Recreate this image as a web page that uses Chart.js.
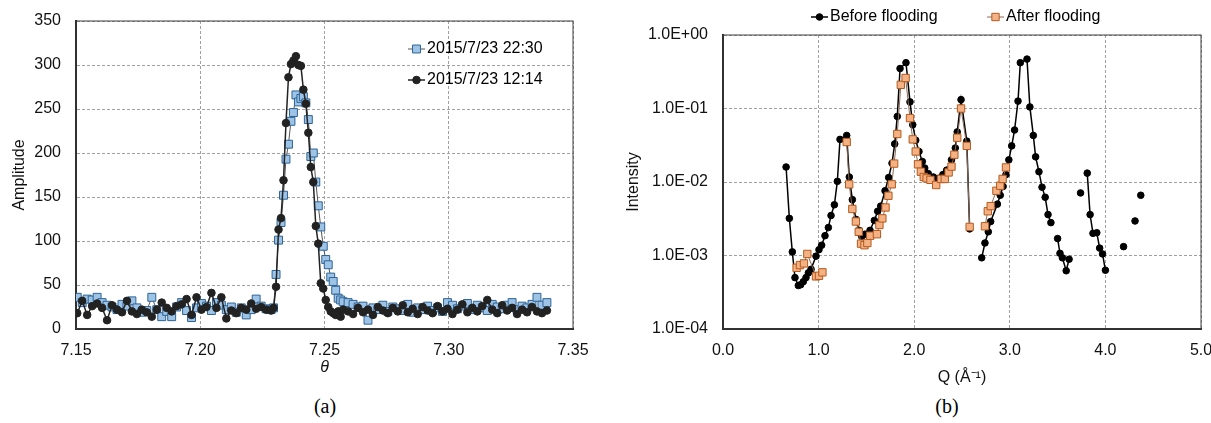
<!DOCTYPE html>
<html>
<head>
<meta charset="utf-8">
<script src="https://cdn.jsdelivr.net/npm/chart.js"></script>
<style>
  html, body { margin: 0; padding: 0; background: #fff; }
  #wrap { position: relative; width: 1211px; height: 423px; overflow: hidden; }
  canvas { position: absolute; top: 0; }
  #chartA { left: 0; }
  #chartB { left: 600px; }
  .cap { position: absolute; top: 395px; width: 60px; text-align: center;
         font: 20px "Liberation Serif", "Times New Roman", serif; color: #000; }
</style>
</head>
<body>
<div id="wrap">
  <canvas id="chartA" width="600" height="390"></canvas>
  <canvas id="chartB" width="611" height="390"></canvas>
  <div class="cap" style="left:295px">(a)</div>
  <div class="cap" style="left:917px">(b)</div>
</div>
<script>
"use strict";

/* (a) amplitude vs theta */
const theta = [
  7.1505, 7.1525, 7.1545, 7.1565, 7.1585, 7.1605, 7.1625, 7.1645, 7.1665, 7.1685,
  7.1705, 7.1725, 7.1745, 7.1765, 7.1785, 7.1805, 7.1825, 7.1845, 7.1865, 7.1885,
  7.1905, 7.1925, 7.1945, 7.1965, 7.1985, 7.2005, 7.2025, 7.2045, 7.2065, 7.2085,
  7.2105, 7.2125, 7.2145, 7.2165, 7.2185, 7.2205, 7.2225, 7.2245, 7.2265, 7.2285,
  7.2295, 7.2305, 7.2315, 7.2325, 7.2335, 7.2345, 7.2355, 7.2365, 7.2375, 7.2385,
  7.2395, 7.2405, 7.2415, 7.2425, 7.2435, 7.2445, 7.2455, 7.2465, 7.2475, 7.2485,
  7.2495, 7.2505, 7.2515, 7.2525, 7.2535, 7.2545, 7.2555, 7.2565, 7.2575,
  7.2595, 7.2615, 7.2635, 7.2655, 7.2675, 7.2695, 7.2715, 7.2735, 7.2755, 7.2775,
  7.2795, 7.2815, 7.2835, 7.2855, 7.2875, 7.2895, 7.2915, 7.2935, 7.2955, 7.2975,
  7.2995, 7.3015, 7.3035, 7.3055, 7.3075, 7.3095, 7.3115, 7.3135, 7.3155, 7.3175,
  7.3195, 7.3215, 7.3235, 7.3255, 7.3275, 7.3295, 7.3315, 7.3335, 7.3355, 7.3375,
  7.3395
];
const amp2230 = [
  36, 30, 34, 33, 36, 30, 27, 25, 22, 28, 26, 32, 24, 19, 21, 36, 22, 14, 20, 14,
  25, 30, 21, 13, 24, 29, 26, 21, 30, 27, 22, 25, 19, 24, 16, 22, 34, 26, 23, 22,
  24, 62, 101, 121, 152, 193, 210, 236, 246, 266, 258, 262, 264, 257, 238, 196, 200, 167, 140, 116,
  94, 79, 73, 59, 54, 44, 35, 33, 31,
  30, 28, 25, 26, 10, 24, 22, 27, 20, 25, 23, 21, 28, 19, 24, 22, 26, 21, 24, 20,
  30, 27, 23, 26, 29, 22, 27, 24, 21, 28, 25, 23, 27, 30, 22, 26, 24, 28, 36, 27,
  30
];
const amp1214 = [
  18, 32, 16, 26, 29, 24, 10, 27, 22, 19, 32, 20, 17, 22, 19, 14, 22, 30, 24, 20,
  26, 28, 34, 16, 36, 22, 25, 41, 24, 36, 12, 21, 18, 24, 22, 29, 23, 25, 22, 21,
  24, 48, 113, 126, 169, 234, 286, 301, 305, 310, 300, 299, 272, 256, 223, 184, 167, 117, 97, 52,
  46, 33, 25, 20, 18, 16, 20, 14, 22,
  20, 17, 24, 19, 22, 16, 25, 21, 18, 24, 20, 27, 19, 23, 17, 25, 21, 18, 26, 20,
  23, 17, 22, 28, 19, 24, 20, 26, 33, 22, 18, 27, 21, 24, 17, 22, 19, 25, 20, 18,
  21
];
const xTicksA = [7.15, 7.20, 7.25, 7.30, 7.35];
const yTicksA = [0, 50, 100, 150, 200, 250, 300, 350];

/* (b) intensity vs Q, null = break in the line */
const qBefore = [
  0.66, 0.694, 0.725, 0.753, 0.788, 0.812, 0.840, 0.868, 0.893, 0.921,
  0.973, 1.004, 1.032, 1.067, 1.102, 1.130, 1.165, 1.196, 1.224, 1.294,
  1.321, 1.353, 1.391, 1.423, 1.451, 1.485, 1.538, 1.583, 1.618, 1.650,
  1.695, 1.733, 1.768, 1.796, 1.823, 1.852, 1.914, 1.956, 1.985, 2.016,
  2.05, 2.085, 2.11, 2.147, 2.20, 2.25, 2.30, 2.34, 2.39, 2.43,
  2.45, 2.49, 2.55, 2.58,
  2.64,
  2.706, 2.74, 2.775, 2.80, 2.87, 2.90, 2.93, 2.96, 2.99, 3.02,
  3.05, 3.086, 3.11, 3.18, 3.21, 3.246, 3.27, 3.305, 3.337, 3.37,
  3.40, 3.43,
  3.46,
  3.50, 3.525, 3.55, 3.59, 3.62,
  3.68, 3.74, 3.78,
  3.81, 3.84, 3.87, 3.91, 3.94, 3.97, 4.00,
  4.10, 4.19, 4.25, 4.31, 4.34, 4.37
];
const iBefore = [
  1.6e-2, 3.2e-3, 1.12e-3, 5.0e-4, 3.9e-4, 4.0e-4, 4.4e-4, 5.0e-4, 5.8e-4, 6.5e-4,
  9.8e-4, 1.2e-3, 1.38e-3, 1.86e-3, 2.4e-3, 3.5e-3, 4.9e-3, 1.02e-2, 3.8e-2, 4.3e-2,
  1.17e-2, 5.75e-3, 3.1e-3, 2.2e-3, 1.82e-3, 1.95e-3, 2.2e-3, 3.0e-3, 4.0e-3, 4.7e-3,
  7.6e-3, 1.15e-2, 1.8e-2, 3.3e-2, 7.8e-2, 3.5e-1, 4.2e-1, 1.23e-1, 6.0e-2, 3.7e-2,
  2.6e-2, 1.9e-2, 1.55e-2, 1.3e-2, 1.17e-2, 1.12e-2, 1.26e-2, 1.45e-2, 2.0e-2, 2.9e-2,
  4.8e-2, 1.32e-1, 3.6e-2, 2.3e-3,
  null,
  9.3e-4, 1.48e-3, 2.1e-3, 2.9e-3, 5.0e-3, 6.6e-3, 8.7e-3, 1.26e-2, 2.0e-2, 3.1e-2,
  5.1e-2, 1.26e-1, 4.2e-1, 4.7e-1, 1.05e-1, 4.3e-2, 2.2e-2, 1.38e-2, 8.5e-3, 6.2e-3,
  3.6e-3, 2.8e-3,
  null,
  1.7e-3, 1.07e-3, 9.3e-4, 6.2e-4, 8.9e-4,
  null, 7.1e-3, null,
  1.32e-2, 3.6e-3, 2.0e-3, 2.04e-3, 1.26e-3, 1.05e-3, 6.3e-4,
  null, 1.32e-3, null, 2.95e-3, null, 6.6e-3
];
const qAfter = [
  0.77, 0.805, 0.847, 0.882, 0.973, 1.004, 1.04,
  1.15,
  1.294, 1.32, 1.353, 1.39, 1.42, 1.444, 1.48, 1.51, 1.54, 1.61,
  1.636, 1.667, 1.70, 1.73, 1.765, 1.79, 1.823, 1.86, 1.91, 1.956,
  1.985, 2.016, 2.04, 2.07, 2.10, 2.13, 2.17, 2.23, 2.28, 2.32,
  2.36, 2.39, 2.42, 2.45, 2.49, 2.55, 2.58,
  2.66,
  2.74, 2.77, 2.80, 2.86, 2.90, 2.925, 2.96
];
const iAfter = [
  6.8e-4, 7.4e-4, 7.8e-4, 1.05e-3, 5.2e-4, 5.3e-4, 5.9e-4,
  null,
  3.5e-2, 9.3e-3, 4.3e-3, 2.9e-3, 2.1e-3, 1.45e-3, 1.38e-3, 1.48e-3, 1.86e-3, 1.95e-3,
  2.6e-3, 3.2e-3, 4.5e-3, 6.5e-3, 9.3e-3, 1.78e-2, 4.5e-2, 2.1e-1, 2.6e-1, 7.4e-2,
  3.8e-2, 2.6e-2, 1.74e-2, 1.38e-2, 1.17e-2, 1.12e-2, 1.07e-2, 9.1e-3, 1.1e-2, 1.1e-2,
  1.35e-2, 1.62e-2, 2.35e-2, 4.0e-2, 1.0e-1, 3.1e-2, 2.45e-3,
  null,
  2.5e-3, 4.0e-3, 4.7e-3, 7.6e-3, 8.9e-3, 1.1e-2, 1.58e-2
];
const xTicksB = [0, 1, 2, 3, 4, 5];
const yTicksB = [1e-4, 1e-3, 1e-2, 1e-1, 1];


Chart.defaults.font.family = '"Liberation Sans", Arial, sans-serif';
Chart.defaults.font.size = 16;
Chart.defaults.color = '#111';

const toPoints = (xs, ys) => xs.map((x, i) => ({ x: x, y: ys[i] }));

/* 1.0E-02 style labels */
function sciLabel(v) {
    const e = Math.round(Math.log10(v));
    return '1.0E' + (e < 0 ? '-' : '+') + String(Math.abs(e)).padStart(2, '0');
}

/* fixed axis box size so the plot area lands where it should */
function fixSize(prop, size) {
    return function (scale) {
        scale[prop] = size;
        scale.paddingLeft = 0;
        scale.paddingRight = 0;
        scale.paddingTop = 0;
        scale.paddingBottom = 0;
    };
}

function setTicks(values) {
    return function (scale) {
        scale.ticks = values.map(v => ({ value: v }));
    };
}

/* solid frame round the plot area */
const frame = {
    id: 'frame',
    beforeDatasetsDraw(chart) {
        const { ctx, chartArea: a } = chart;
        ctx.save();
        ctx.strokeStyle = '#404040';
        ctx.lineWidth = 1;
        ctx.strokeRect(a.left, a.top, a.right - a.left, a.bottom - a.top);
        ctx.restore();
    }
};

/* legend entries drawn as line + marker + text, like the original */
const markerLegend = {
    id: 'markerLegend',
    afterDraw(chart, args, opts) {
        const ctx = chart.ctx;
        ctx.save();
        ctx.font = '16px "Liberation Sans", Arial, sans-serif';
        ctx.textBaseline = 'middle';
        ctx.textAlign = 'left';
        opts.items.forEach(item => {
            const ds = chart.data.datasets[item.index];
            const x = item.x, y = item.y, cx = x + 8.5;
            ctx.strokeStyle = ds.borderColor;
            ctx.lineWidth = ds.borderWidth;
            ctx.beginPath();
            ctx.moveTo(x, y);
            ctx.lineTo(x + 17, y);
            ctx.stroke();
            ctx.fillStyle = ds.pointBackgroundColor;
            ctx.strokeStyle = ds.pointBorderColor;
            ctx.lineWidth = ds.pointBorderWidth;
            ctx.beginPath();
            if (ds.pointStyle === 'rect') {
                const s = ds.pointRadius * Math.SQRT1_2;
                ctx.rect(cx - s, y - s, 2 * s, 2 * s);
            } else {
                ctx.arc(cx, y, ds.pointRadius, 0, Math.PI * 2);
            }
            ctx.fill();
            ctx.stroke();
            ctx.fillStyle = '#000';
            ctx.fillText(ds.label, x + 19, y);
        });
        ctx.restore();
    }
};

const gridLook = { color: '#a0a0a0', lineWidth: 1, drawTicks: false };
const borderLook = { display: true, color: '#222', width: 2, dash: [3, 2] };

/* chart (a) */
new Chart(document.getElementById('chartA'), {
    type: 'scatter',
    data: {
        datasets: [{
            label: '2015/7/23 22:30',
            data: toPoints(theta, amp2230),
            showLine: true,
            borderColor: '#555',
            borderWidth: 1,
            pointStyle: 'rect',
            pointRadius: 5.6,
            pointBackgroundColor: '#9dc3e6',
            pointBorderColor: '#2e6496',
            pointBorderWidth: 1,
            order: 1
        }, {
            label: '2015/7/23 12:14',
            data: toPoints(theta, amp1214),
            showLine: true,
            borderColor: '#222',
            borderWidth: 1.5,
            pointStyle: 'circle',
            pointRadius: 3.8,
            pointBackgroundColor: '#222',
            pointBorderColor: '#222',
            pointBorderWidth: 1,
            order: 0
        }]
    },
    options: {
        responsive: false,
        animation: false,
        events: [],
        layout: { padding: { left: 0, top: 21, right: 27, bottom: 0 } },
        scales: {
            x: {
                type: 'linear',
                min: 7.15,
                max: 7.35,
                afterFit: fixSize('height', 61),
                afterBuildTicks: setTicks(xTicksA),
                ticks: { padding: 12, callback: v => v.toFixed(2) },
                grid: gridLook,
                border: borderLook,
                title: { display: true, text: 'θ', font: { size: 16, style: 'italic' }, padding: { top: 0, bottom: 13 } }
            },
            y: {
                min: 0,
                max: 350,
                afterFit: fixSize('width', 76),
                afterBuildTicks: setTicks(yTicksA),
                ticks: { padding: 15 },
                grid: gridLook,
                border: borderLook,
                title: { display: true, text: 'Amplitude', padding: { top: 10, bottom: 0 } }
            }
        },
        plugins: {
            legend: { display: false },
            tooltip: { enabled: false },
            markerLegend: { items: [{ index: 0, x: 408, y: 49 }, { index: 1, x: 408, y: 80 }] }
        }
    },
    plugins: [frame, markerLegend]
});

/* chart (b) */
new Chart(document.getElementById('chartB'), {
    type: 'scatter',
    data: {
        datasets: [{
            label: 'Before flooding',
            data: toPoints(qBefore, iBefore),
            showLine: true,
            spanGaps: false,
            borderColor: '#000',
            borderWidth: 1.5,
            pointStyle: 'circle',
            pointRadius: 3.3,
            pointBackgroundColor: '#000',
            pointBorderColor: '#000',
            pointBorderWidth: 1,
            order: 1
        }, {
            label: 'After flooding',
            data: toPoints(qAfter, iAfter),
            showLine: true,
            spanGaps: false,
            borderColor: '#8a6a58',
            borderWidth: 1,
            pointStyle: 'rect',
            pointRadius: 5.2,
            pointBackgroundColor: '#f4b183',
            pointBorderColor: '#b45a1e',
            pointBorderWidth: 1,
            order: 0
        }]
    },
    options: {
        responsive: false,
        animation: false,
        events: [],
        layout: { padding: { left: 0, top: 35, right: 10, bottom: 0 } },
        scales: {
            x: {
                type: 'linear',
                min: 0,
                max: 5,
                afterFit: fixSize('height', 61),
                afterBuildTicks: setTicks(xTicksB),
                ticks: { padding: 12, callback: v => v.toFixed(1) },
                grid: gridLook,
                border: borderLook,
                title: { display: true, text: 'Q (Å⁻¹)', padding: { top: 0, bottom: 3 } }
            },
            y: {
                type: 'logarithmic',
                min: 1e-4,
                max: 1,
                afterFit: fixSize('width', 123),
                afterBuildTicks: setTicks(yTicksB),
                ticks: { padding: 15, callback: v => sciLabel(v) },
                grid: gridLook,
                border: borderLook,
                title: { display: true, text: 'Intensity', padding: { top: 24, bottom: 0 } }
            }
        },
        plugins: {
            legend: { display: false },
            tooltip: { enabled: false },
            markerLegend: { items: [{ index: 0, x: 211, y: 17 }, { index: 1, x: 387, y: 17 }] }
        }
    },
    plugins: [frame, markerLegend]
});
</script>
</body>
</html>
